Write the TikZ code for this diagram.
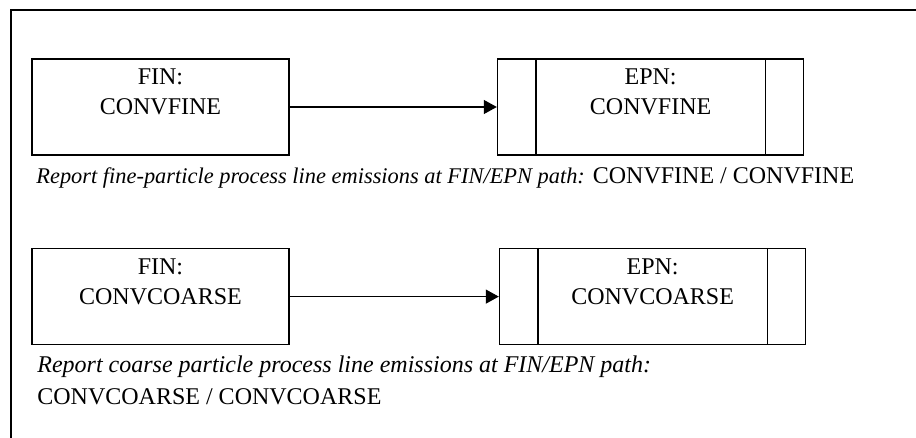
\documentclass[tikz,border=0pt]{standalone}
\usepackage{fontspec}
\setmainfont{Liberation Serif}
\usetikzlibrary{arrows.meta}
\usetikzlibrary{positioning}

\tikzset{
    finbox/.style={draw, line width=0.8pt, minimum width=128.5pt, minimum height=48pt,
                   align=center, inner sep=0pt},
    epnbox/.style={finbox, minimum width=153pt},
    note/.style={anchor=north west, align=left, inner sep=0pt,
                 font=\fontsize{12}{16}\selectfont},
    flow/.style={line width=0.6pt, -{Triangle[length=6.5pt, width=7pt]}},
}

\begin{document}
\begin{tikzpicture}[
    x=0.5pt, y=-0.5pt,
    font=\fontsize{12}{15}\selectfont,
 ]
    \useasboundingbox (0,0) rectangle (916,438);
    % outer frame, runs off the right and bottom edge
    \draw[line width=1pt] (10.5,10.5) rectangle (940,460);

    \node[finbox] (fin1) at (160.5,107) {FIN:\\CONVFINE\\\mbox{}};
    \node[epnbox, right=103.5pt of fin1] (epn1) {EPN:\\CONVFINE\\\mbox{}};
    \node[finbox, below=46pt of fin1] (fin2) {FIN:\\CONVCOARSE\\\mbox{}};
    \node[epnbox, right=104.5pt of fin2] (epn2) {EPN:\\CONVCOARSE\\\mbox{}};

    \foreach \n in {epn1,epn2} {
        \draw[line width=0.8pt] ([xshift=19.5pt]\n.north west) -- ([xshift=19.5pt]\n.south west);
        \draw[line width=0.8pt] ([xshift=-19.5pt]\n.north east) -- ([xshift=-19.5pt]\n.south east);
    }

    \draw[flow] (fin1) -- (epn1);
    \draw[flow] (fin2) -- (epn2);

    \node[note, anchor=base west] (cap1) at (36,184)
        {{\fontsize{11.2}{15}\selectfont\itshape Report fine-particle process line emissions at FIN/EPN path:} CONVFINE / CONVFINE};
    \node[note] (cap2) at (37,355)
        {\textit{Report coarse particle process line emissions at FIN/EPN path:}\\CONVCOARSE / CONVCOARSE};

\end{tikzpicture}
\end{document}
